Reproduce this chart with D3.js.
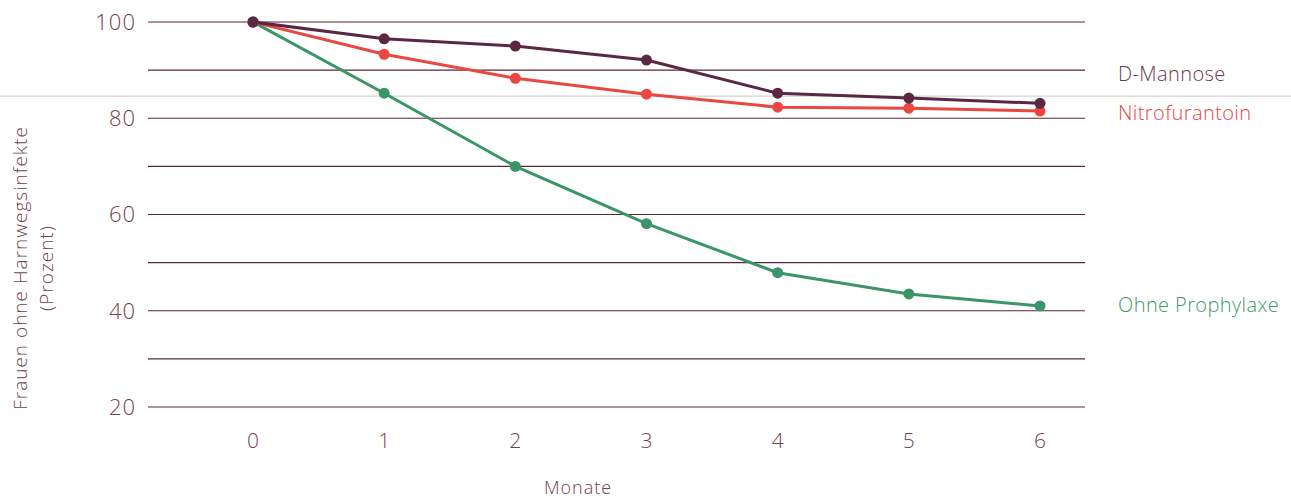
<!DOCTYPE html>
<html>
<head>
<meta charset="utf-8">
<script src="https://cdn.jsdelivr.net/npm/d3@7"></script>
<style>
  body { margin: 0; background: #fff; }
  svg { font-family: "Open Sans", Lato, sans-serif; font-weight: 300; }
</style>
</head>
<body>
<svg id="chart" width="1291" height="503"></svg>
<script>
// data
const months = [0, 1, 2, 3, 4, 5, 6];
const dMannose = [100, 96.5, 95, 92.1, 85.2, 84.2, 83.1];
const nitrofurantoin = [100, 93.3, 88.3, 85, 82.3, 82.1, 81.5];
const ohneProphylaxe = [100, 85.2, 70, 58.1, 47.9, 43.5, 41];
const yTicks = [20, 30, 40, 50, 60, 70, 80, 90, 100];
const yLabels = [20, 40, 60, 80, 100];

const series = [
  { name: "D-Mannose", values: dMannose, color: "#5b2844", text: "#6a3a52", labelAt: 89.3 },
  { name: "Nitrofurantoin", values: nitrofurantoin, color: "#e9473f", text: "#e9473f", labelAt: 81.2 },
  { name: "Ohne Prophylaxe", values: ohneProphylaxe, color: "#3a9567", text: "#3f9a6c", labelAt: 41.2 }
];

const svg = d3.select("#chart");
const x = d3.scaleLinear().domain([0, 6]).range([253, 1040]);
const y = d3.scaleLinear().domain([20, 100]).range([407, 22]);
const gridLeft = 148, gridRight = 1085;
const textColor = "#74404f";

// gridlines
svg.append("g").selectAll("line")
  .data(yTicks)
  .enter()
  .append("line")
  .attr("x1", gridLeft)
  .attr("x2", gridRight)
  .attr("y1", d => y(d))
  .attr("y2", d => y(d))
  .attr("stroke", "#5e2436")
  .attr("stroke-width", 1.1);

// faint scan seam
svg.append("line")
  .attr("x1", 0).attr("x2", 1291)
  .attr("y1", y(84.6)).attr("y2", y(84.6))
  .attr("stroke", "#b5b5b0").attr("stroke-width", 1.3).attr("opacity", 0.6);

// y labels
svg.append("g").selectAll("text")
  .data(yLabels)
  .enter()
  .append("text")
  .attr("x", 136)
  .attr("y", d => y(d))
  .attr("dy", "0.36em")
  .attr("text-anchor", "end")
  .attr("fill", textColor)
  .style("font-size", "22px")
  .style("letter-spacing", "1px")
  .text(d => d);

// x labels
svg.append("g").selectAll("text")
  .data(months)
  .enter()
  .append("text")
  .attr("x", d => x(d))
  .attr("y", 448)
  .attr("text-anchor", "middle")
  .attr("fill", textColor)
  .style("font-size", "21px")
  .text(d => d);

svg.append("text")
  .attr("x", 578).attr("y", 494)
  .attr("text-anchor", "middle")
  .attr("fill", textColor)
  .style("font-size", "18px")
  .style("letter-spacing", "1px")
  .text("Monate");

// y axis title
const yt = svg.append("text")
  .attr("transform", "translate(32,268) rotate(-90)")
  .attr("text-anchor", "middle")
  .attr("fill", textColor)
  .style("font-size", "19px")
  .style("letter-spacing", "1px");
yt.append("tspan").attr("x", 0).attr("dy", "-0.25em").text("Frauen ohne Harnwegsinfekte");
yt.append("tspan").attr("x", 0).attr("dy", "1.35em").text("(Prozent)");

// lines and dots
const line = d3.line().x((d, i) => x(months[i])).y(d => y(d));
const order = [series[2], series[1], series[0]];
order.forEach(s => {
  svg.append("path")
    .datum(s.values)
    .attr("d", line)
    .attr("fill", "none")
    .attr("stroke", s.color)
    .attr("stroke-width", 3);
  svg.append("g").selectAll("circle")
    .data(s.values)
    .enter()
    .append("circle")
    .attr("cx", (d, i) => x(months[i]))
    .attr("cy", d => y(d))
    .attr("r", 5.5)
    .attr("fill", s.color);
});

// series labels
svg.append("g").selectAll("text")
  .data(series)
  .enter()
  .append("text")
  .attr("x", 1118)
  .attr("y", d => y(d.labelAt))
  .attr("dy", "0.36em")
  .attr("fill", d => d.text)
  .style("font-size", "20px")
  .style("letter-spacing", "0.4px")
  .text(d => d.name);
</script>
</body>
</html>
